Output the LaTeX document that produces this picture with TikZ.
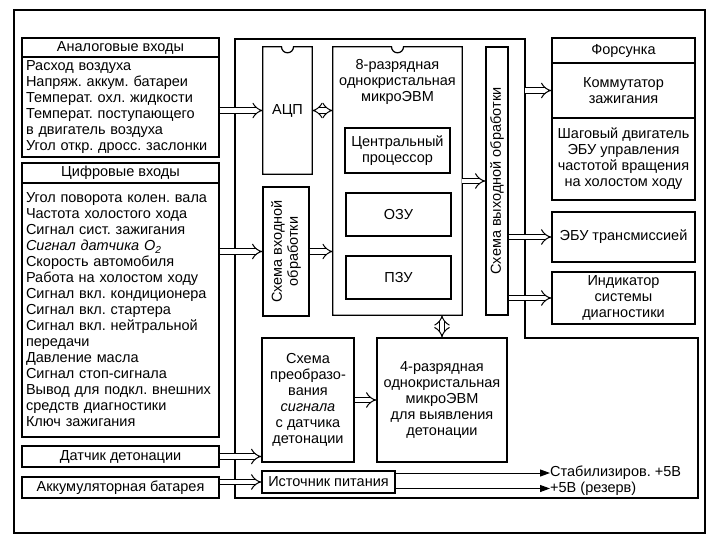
\documentclass[tikz,border=0pt]{standalone}
\usepackage{fontspec}
\setmainfont{Liberation Sans}
\usetikzlibrary{arrows.meta}
\frenchspacing

\tikzset{
  box/.style={draw, line width=1.2pt, inner sep=1pt, align=center},
  list/.style={box, align=left, inner xsep=4pt, text width=189pt},
  dbl/.style={double, double distance=4.5pt, line width=1pt, -{Implies[scale=1.3]}},
  dbltwo/.style={double, double distance=4.5pt, line width=1pt, {Implies[scale=1.05]}-{Implies[scale=1.05]}},
  feed/.style={line width=1pt, -{Triangle[length=10pt,width=7pt]}},
}

\begin{document}
\begin{tikzpicture}[x=1pt, y=-1pt, font=\fontsize{14.5}{16}\selectfont]
 \useasboundingbox (0,0) rectangle (715,544);

 %outer frame and ECU outline
 \draw[line width=1.2pt] (14,10) rectangle (705,533);
 \coordinate (ecuNE) at (525,39);
 \draw[line width=1.2pt] (235,39) -- (ecuNE) -- (525,338) -- (698,338) -- (698,498) -- (235,498) -- cycle;

 %analog inputs
 \node[box, minimum width=197, minimum height=19] (anhead) at (120.5,47.5) {Аналоговые входы};
 \node[list, minimum height=100] (anbody) at (120.5,107) {Расход воздуха\\Напряж. аккум. батареи\\Температ. охл. жидкости\\Температ. поступающего\\в двигатель воздуха\\Угол откр. дросс. заслонки};

 %digital inputs
 \node[box, minimum width=197, minimum height=20] (dghead) at (120.5,173) {Цифровые входы};
 \node[list, minimum height=254] (dgbody) at (120.5,310) {Угол поворота колен. вала\\Частота холостого хода\\Сигнал сист. зажигания\\\textit{Сигнал датчика O\textsubscript{2}}\\Скорость автомобиля\\Работа на холостом ходу\\Сигнал вкл. кондиционера\\Сигнал вкл. стартера\\Сигнал вкл. нейтральной\\передачи\\Давление масла\\Сигнал стоп-сигнала\\Вывод для подкл. внешних\\средств диагностики\\Ключ зажигания\\[6pt]};

 %sensor and battery
 \node[box, minimum width=197, minimum height=21] (knock) at (120.5,456.5) {Датчик детонации};
 \node[box, minimum width=197, minimum height=21] (battery) at (120.5,487.5) {Аккумуляторная батарея};

 %ADC chip
 \node[minimum width=49, minimum height=127, inner sep=0pt] (adc) at (287.5,110.5) {АЦП};
 \draw[line width=1.2pt] (adc.north west) -- ([xshift=-6pt]adc.north) arc[start angle=180, end angle=360, radius=6pt] -- (adc.north east) -- (adc.south east) -- (adc.south west) -- cycle;

 %8-bit microcomputer
 \node[minimum width=129, minimum height=268, inner sep=0pt] (mcu8) at (397.5,181) {};
 \draw[line width=1.2pt] (mcu8.north west) -- ([xshift=-6pt]mcu8.north) arc[start angle=180, end angle=360, radius=6pt] -- (mcu8.north east) -- (mcu8.south east) -- (mcu8.south west) -- cycle;
 \node[align=center] (mcu8lbl) at (397.5,82) {8-разрядная\\однокристальная\\микроЭВМ};
 \node[box, minimum width=105, minimum height=45] (cpu) at (397.5,150.5) {Центральный\\процессор};
 \node[box, minimum width=105, minimum height=43] (ram) at (398.5,214.5) {ОЗУ};
 \node[box, minimum width=105, minimum height=43] (rom) at (398.5,277.5) {ПЗУ};

 %input and output processing
 \node[box, minimum width=46, minimum height=129] (inproc) at (286,251.5) {};
 \node[rotate=90, align=center] (inproclbl) at (inproc.center) {Схема входной\\обработки};
 \node[box, minimum width=22, minimum height=268] (outproc) at (497,181) {};
 \node[rotate=90] (outproclbl) at (outproc.center) {Схема выходной обработки};

 %actuators
 \node[box, minimum width=143, minimum height=25] (inj) at (623.5,50.5) {Форсунка};
 \node[box, minimum width=143, minimum height=55] (ign) at (623.5,90.5) {Коммутатор\\зажигания};
 \node[box, minimum width=143, minimum height=82] (idle) at (623.5,159) {Шаговый двигатель\\ЭБУ управления\\частотой вращения\\на холостом ходу};
 \node[box, minimum width=143, minimum height=50] (trans) at (623.5,237) {ЭБУ трансмиссией};
 \node[box, minimum width=143, minimum height=52] (diag) at (623.5,298) {Индикатор\\системы\\диагностики};

 %knock processing and power supply
 \node[box, minimum width=92, minimum height=124] (knockproc) at (308,400) {Схема\\преобразо-\\вания\\\textit{сигнала}\\с датчика\\детонации};
 \node[box, minimum width=130, minimum height=124] (mcu4) at (442,400) {4-разрядная\\однокристальная\\микроЭВМ\\для выявления\\детонации};
 \node[box, minimum width=133, minimum height=22] (psu) at (328.5,482) {Источник питания};
 \node[anchor=west, inner sep=0pt] (stab) at (550,473) {Стабилизиров. +5В};
 \node[anchor=west, inner sep=0pt] (spare) at (550,488.5) {+5В (резерв)};

 %signal arrows
 \draw[dbl] (anbody.east |- adc.west) -- (adc.west);
 \draw[dbltwo] (adc.east) -- (adc.east -| mcu8.west);
 \draw[dbl] (dgbody.east |- inproc.west) -- (inproc.west);
 \draw[dbl] (inproc.east) -- (inproc.east -| mcu8.west);
 \draw[dbl] (mcu8.east) -- (outproc.west);
 \draw[dbl] (ecuNE |- ign.west) -- (ign.west);
 \draw[dbl] (outproc.east |- trans.west) -- (trans.west);
 \draw[dbl] (outproc.east |- diag.west) -- (diag.west);
 \draw[dbltwo] (mcu8.south -| mcu4.north) -- (mcu4.north);
 \draw[dbl] (knock.east) -- (knock.east -| knockproc.west);
 \draw[dbl] (battery.east |- psu.west) -- (psu.west);
 \draw[dbl] (knockproc.east) -- (mcu4.west);

 %supply lines
 \draw[feed] (psu.east |- stab.west) -- (stab.west);
 \draw[feed] (psu.east |- spare.west) -- (spare.west);
\end{tikzpicture}
\end{document}
